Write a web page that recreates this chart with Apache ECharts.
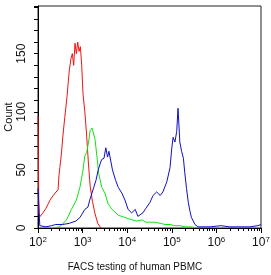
<!DOCTYPE html>
<html>
<head>
<meta charset="utf-8">
<script src="https://cdn.jsdelivr.net/npm/echarts@6/dist/echarts.min.js"></script>
<style>
    html, body { margin: 0; padding: 0; background: #fff; }
    #main { width: 271px; height: 275px; }
</style>
</head>
<body>
<div id="main"></div>
<script>
    // x positions are log10(intensity), y are counts
    var redX = [2.00, 2.02, 2.05, 2.11, 2.18, 2.27, 2.34, 2.45, 2.47, 2.49, 2.52, 2.56, 2.60, 2.65, 2.70, 2.74, 2.77, 2.80, 2.83, 2.86, 2.89, 2.92, 2.95, 2.98, 3.01, 3.05, 3.09, 3.13, 3.17, 3.22, 3.28, 3.34, 3.41];
    var redY = [96, 12, 10, 13, 17, 24, 28, 33, 45, 52, 62, 80, 95, 113, 135, 146, 150, 140, 159, 150, 160, 152, 156, 140, 115, 100, 80, 56, 36, 23, 12, 4, 0];

    var greenX = [2.30, 2.49, 2.64, 2.75, 2.86, 2.94, 3.01, 3.05, 3.09, 3.13, 3.17, 3.21, 3.24, 3.28, 3.32, 3.36, 3.43, 3.50, 3.57, 3.66, 3.80, 3.95, 4.11, 4.22, 4.33, 4.42, 4.51, 4.62, 4.74, 4.85, 4.96, 5.07, 5.18, 5.30, 5.41, 5.63];
    var greenY = [0, 1, 7, 16, 24, 35, 50, 62, 65, 73, 84, 86, 82, 76, 62, 47, 35, 30, 21, 16, 11, 9, 7, 6, 7, 5, 5, 5, 4, 3, 3, 2, 2, 1, 1, 0];

    var blueX = [2.00, 2.04, 2.18, 2.30, 2.40, 2.55, 2.70, 2.85, 2.94, 3.05, 3.12, 3.16, 3.21, 3.25, 3.30, 3.35, 3.40, 3.43, 3.48, 3.52, 3.56, 3.59, 3.67, 3.74, 3.80, 3.88, 3.95, 4.02, 4.10, 4.18, 4.24, 4.35, 4.42, 4.51, 4.58, 4.66, 4.74, 4.80, 4.89, 4.96, 5.00, 5.03, 5.07, 5.11, 5.14, 5.18, 5.22, 5.26, 5.29, 5.33, 5.37, 5.41, 5.44, 5.52, 5.59, 5.86, 6.10, 6.30, 6.50, 6.75, 6.93, 7.00];
    var blueY = [34, 2, 1, 2, 3, 3, 4, 6, 9, 16, 18, 24, 30, 35, 41, 50, 56, 59, 60, 69, 61, 66, 50, 41, 35, 30, 24, 16, 13, 16, 10, 13, 17, 22, 28, 31, 28, 31, 40, 52, 69, 78, 74, 83, 103, 74, 66, 60, 48, 34, 22, 14, 9, 3, 1, 1, 2, 1, 1, 1, 2, 3];

    var decadeTicks = [2, 3, 4, 5, 6, 7];
    var countTicks = [0, 50, 100, 150];

    function pairs(xs, ys) {
        var out = [];
        for (var i = 0; i < xs.length; i++) out.push([xs[i], ys[i]]);
        return out;
    }

    // minor tick positions at 2..9 x 10^d
    var minorTicks = [];
    for (var d = 2; d < 7; d++) {
        for (var k = 2; k <= 9; k++) minorTicks.push([d + Math.log10(k), 0]);
    }

    var font = 'Liberation Sans';
    var chart = echarts.init(document.getElementById('main'), null, { renderer: 'canvas' });
    var option = {
        animation: false,
        backgroundColor: '#fff',
        grid: {
            left: 38, right: 10, top: 6, bottom: 47,
            outerBoundsMode: 'none',
            containLabel: false,
            show: true, borderColor: '#222', borderWidth: 1
        },
        xAxis: {
            type: 'value',
            min: 2, max: 7, interval: 1,
            name: 'FACS testing of human PBMC',
            nameLocation: 'middle',
            nameGap: 34,
            nameMoveOverlap: false,
            nameTextStyle: { fontFamily: font, fontSize: 10, color: '#111', padding: [0, 29, 0, 0] },
            axisLine: { show: true, lineStyle: { color: '#000', width: 1 } },
            axisTick: { show: true, length: 5, lineStyle: { color: '#000' } },
            splitLine: { show: false },
            axisLabel: {
                margin: 8,
                formatter: function (v) {
                    return decadeTicks.indexOf(v) >= 0 ? '{b|10}{s|' + v + '}' : '';
                },
                rich: {
                    b: { fontFamily: font, fontSize: 12, color: '#111', lineHeight: 14 },
                    s: { fontFamily: font, fontSize: 8, color: '#111', verticalAlign: 'top', lineHeight: 8 }
                }
            }
        },
        yAxis: {
            type: 'value',
            min: 0, max: 191, interval: 50,
            name: 'Count',
            nameLocation: 'middle',
            nameGap: 24,
            nameMoveOverlap: false,
            nameTextStyle: { fontFamily: font, fontSize: 11, color: '#111' },
            axisLine: { show: true, lineStyle: { color: '#000', width: 1 } },
            axisTick: { show: true, length: 4, lineStyle: { color: '#000' } },
            minorTick: { show: true, splitNumber: 5, length: 4, lineStyle: { color: '#000' } },
            splitLine: { show: false },
            axisLabel: {
                rotate: 90,
                margin: 10,
                fontFamily: font, fontSize: 12, color: '#111',
                formatter: function (v) { return countTicks.indexOf(v) >= 0 ? String(v) : ''; }
            }
        },
        series: [
            {
                // minor log ticks under the x axis
                name: 'minor', type: 'custom', silent: true, clip: false,
                data: minorTicks,
                renderItem: function (params, api) {
                    var p = api.coord([api.value(0), 0]);
                    return {
                        type: 'line',
                        shape: { x1: Math.round(p[0]) + 0.5, y1: p[1], x2: Math.round(p[0]) + 0.5, y2: p[1] + 3 },
                        style: { stroke: '#000', lineWidth: 1 }
                    };
                }
            },
            {
                name: 'red', type: 'line', showSymbol: false,
                data: pairs(redX, redY),
                lineStyle: { color: '#ee1414', width: 1 }, itemStyle: { color: '#ee1414' }
            },
            {
                name: 'green', type: 'line', showSymbol: false,
                data: pairs(greenX, greenY),
                lineStyle: { color: '#14e014', width: 1 }, itemStyle: { color: '#14e014' }
            },
            {
                name: 'blue', type: 'line', showSymbol: false,
                data: pairs(blueX, blueY),
                lineStyle: { color: '#1010c0', width: 1 }, itemStyle: { color: '#1010c0' }
            }
        ]
    };
    chart.setOption(option);
</script>
</body>
</html>
